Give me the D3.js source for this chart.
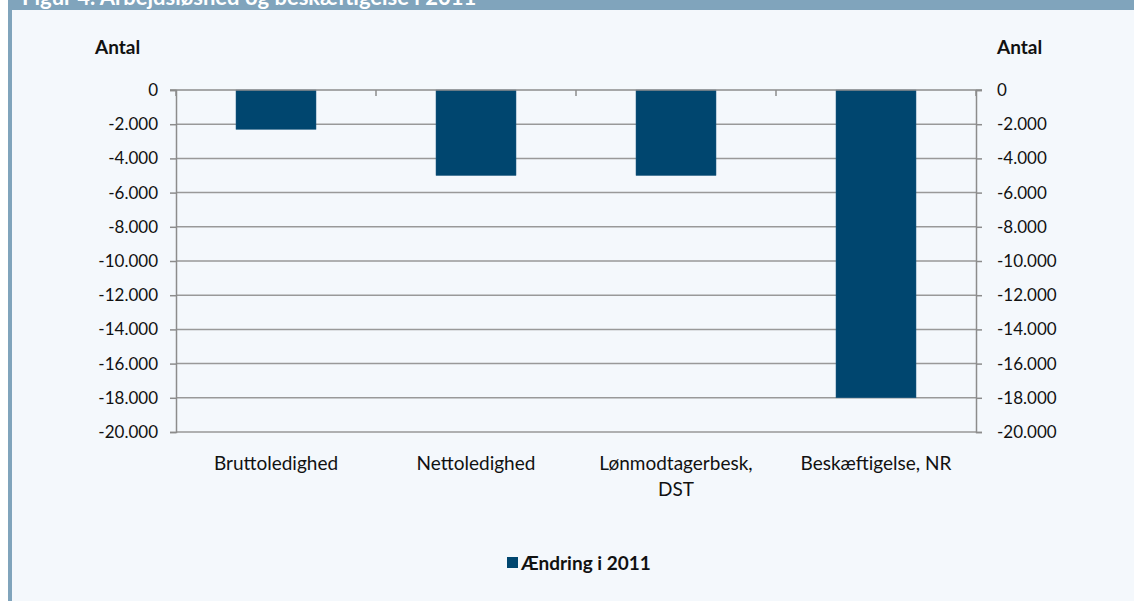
<html>
<head>
<script src="https://d3js.org/d3.v7.min.js"></script>
<style>
  body { margin: 0; background: #ffffff; }
  svg text { font-family: Lato, "Open Sans", sans-serif; }
</style>
</head>
<body>
<svg id="chart"></svg>
<script>
// data
var categories = ["Bruttoledighed", "Nettoledighed", "Lønmodtagerbesk, DST", "Beskæftigelse, NR"];
var categoryLines = [["Bruttoledighed"], ["Nettoledighed"], ["Lønmodtagerbesk,", "DST"], ["Beskæftigelse, NR"]];
var values = [-2300, -5000, -5000, -18000];
var yTicks = [0, -2000, -4000, -6000, -8000, -10000, -12000, -14000, -16000, -18000, -20000];
var seriesName = "Ændring i 2011";
var titleText = "Figur 4. Arbejdsløshed og beskæftigelse i 2011";
var axisTitle = "Antal";

var width = 1134, height = 601;
var plot = {left: 176, right: 976, top: 90, bottom: 432};
var barColor = "#00466f";
var gridColor = "#999999";

var svg = d3.select("#chart")
    .attr("width", width)
    .attr("height", height);

// frame
svg.append("rect").attr("x", 0).attr("y", 0).attr("width", width).attr("height", height).attr("fill", "#ffffff");
svg.append("rect").attr("x", 8).attr("y", 0).attr("width", width - 8).attr("height", height).attr("fill", "#80a4bc");
svg.append("rect").attr("x", 12).attr("y", 10).attr("width", width - 12).attr("height", height - 10).attr("fill", "#f4f8fc");

// title in banner (only the lower part shows)
svg.append("text")
    .attr("x", 22).attr("y", 5)
    .attr("fill", "#ffffff")
    .attr("font-size", 22)
    .attr("font-weight", "bold")
    .text(titleText);

var dk = d3.formatLocale({decimal: ",", thousands: ".", grouping: [3], currency: ["", ""], minus: "-"});
var fmt = dk.format(",");

//scales
var x = d3.scaleBand()
    .domain(categories)
    .range([plot.left, plot.right])
    .paddingInner(0.6)
    .paddingOuter(0.3);

var y = d3.scaleLinear()
    .domain([0, -20000])
    .range([plot.top, plot.bottom]);

// gridlines
svg.append("g")
    .selectAll("line")
    .data(yTicks.filter(function(d) { return d != 0; }))
    .enter()
    .append("line")
    .attr("x1", plot.left).attr("x2", plot.right)
    .attr("y1", function(d) { return y(d); })
    .attr("y2", function(d) { return y(d); })
    .attr("stroke", gridColor)
    .attr("stroke-width", 1.5);

// left axis
var leftAxis = svg.append("g")
    .attr("transform", "translate(" + plot.left + ",0)")
    .call(d3.axisLeft(y).tickValues(yTicks).tickFormat(fmt).tickSize(6).tickPadding(12));

// right axis
var rightAxis = svg.append("g")
    .attr("transform", "translate(" + plot.right + ",0)")
    .call(d3.axisRight(y).tickValues(yTicks).tickFormat(fmt).tickSize(6).tickPadding(15));

[leftAxis, rightAxis].forEach(function(g) {
    g.select(".domain").attr("stroke", "#8c8c8c").attr("stroke-width", 1.5);
    g.selectAll(".tick line").attr("stroke", "#8c8c8c").attr("stroke-width", 1.5);
    g.selectAll(".tick text")
        .attr("font-size", 17)
        .attr("fill", "#111111")
        .style("font-family", "Lato, sans-serif");
});

// bars
svg.append("g")
    .selectAll("rect")
    .data(values)
    .enter()
    .append("rect")
    .attr("x", function(d, i) { return x(categories[i]); })
    .attr("y", y(0))
    .attr("width", x.bandwidth())
    .attr("height", function(d) { return y(d) - y(0); })
    .attr("fill", barColor)
    .attr("stroke", "#1f5a80")
    .attr("stroke-width", 0.5);

// category axis on the zero line, ticks pointing down
var step = x.step();
var boundaries = d3.range(categories.length + 1).map(function(i) { return plot.left + i * step; });
svg.append("line")
    .attr("x1", plot.left - 6).attr("x2", plot.right + 6)
    .attr("y1", y(0)).attr("y2", y(0))
    .attr("stroke", "#8c8c8c").attr("stroke-width", 1.5);
svg.append("g")
    .selectAll("line")
    .data(boundaries)
    .enter()
    .append("line")
    .attr("x1", function(d) { return d; }).attr("x2", function(d) { return d; })
    .attr("y1", y(0)).attr("y2", y(0) + 6)
    .attr("stroke", "#8c8c8c").attr("stroke-width", 1.5);

// category labels
svg.append("g")
    .selectAll("text")
    .data(categoryLines)
    .enter()
    .append("text")
    .attr("text-anchor", "middle")
    .attr("font-size", 19)
    .attr("fill", "#111111")
    .each(function(lines, i) {
        var cx = x(categories[i]) + x.bandwidth() / 2;
        d3.select(this).selectAll("tspan")
            .data(lines)
            .enter()
            .append("tspan")
            .attr("x", cx)
            .attr("y", function(d, j) { return 470 + j * 26; })
            .text(function(d) { return d; });
    });

// axis titles
svg.append("text")
    .attr("x", 95).attr("y", 54)
    .attr("font-size", 19).attr("font-weight", "bold").attr("fill", "#111111")
    .text(axisTitle);
svg.append("text")
    .attr("x", 997).attr("y", 54)
    .attr("font-size", 19).attr("font-weight", "bold").attr("fill", "#111111")
    .text(axisTitle);

// legend
svg.append("rect")
    .attr("x", 507).attr("y", 557)
    .attr("width", 11).attr("height", 11)
    .attr("fill", barColor);
svg.append("text")
    .attr("x", 521).attr("y", 570)
    .attr("font-size", 19).attr("font-weight", "bold").attr("fill", "#111111")
    .text(seriesName);
</script>
</body>
</html>
